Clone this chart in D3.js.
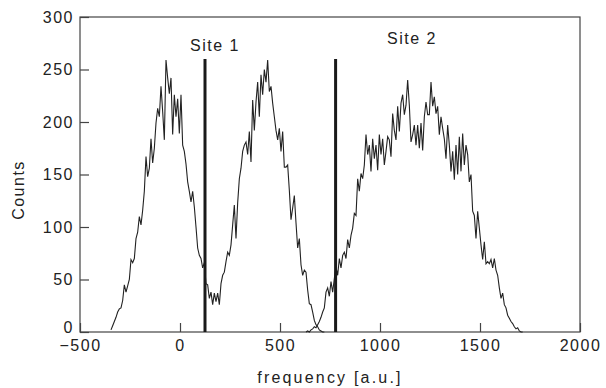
<!DOCTYPE html>
<html>
<head>
<meta charset="utf-8">
<script src="https://cdn.jsdelivr.net/npm/d3@7"></script>
<style>
  body { margin: 0; background: #fff; }
  svg text { font-family: "Liberation Sans", Arial, sans-serif; font-size: 16px; letter-spacing: 1.5px; fill: #222; }
</style>
</head>
<body>
<div id="chart"></div>
<script>
// histogram 1 (site 1 both peaks), bins start at -345, width 25/3
var startA = -345
var countsA = [2, 6, 10, 14, 19, 22, 23, 30, 45, 38, 44, 50, 69, 66, 70, 89, 95, 110, 102, 116,
  134, 167, 148, 156, 184, 161, 175, 199, 213, 205, 234, 210, 183, 259, 242, 227, 242, 188, 226, 205,
  222, 189, 226, 178, 172, 160, 143, 134, 124, 134, 119, 100, 80, 73, 70, 61, 66, 46, 45, 32,
  38, 26, 37, 29, 37, 26, 46, 54, 57, 67, 76, 73, 83, 102, 121, 89, 123, 146, 156, 172,
  178, 181, 169, 191, 162, 221, 192, 219, 238, 205, 245, 226, 250, 238, 259, 229, 234, 218, 205, 192,
  183, 194, 172, 191, 157, 157, 159, 135, 107, 118, 130, 104, 80, 89, 64, 54, 59, 57, 40, 27,
  26, 19, 11, 7, 5, 2, 1, 0, 0]
// histogram 2 (site 2), bins start at 630
var startB = 630
var countsB = [0, 1, 0, 2, 3, 5, 4, 7, 10, 14, 19, 23, 38, 42, 34, 48, 38, 51, 62, 54,
  70, 61, 73, 76, 70, 88, 80, 92, 99, 113, 111, 146, 134, 151, 146, 159, 188, 169, 178, 153,
  184, 165, 178, 154, 188, 169, 184, 159, 172, 186, 183, 167, 208, 192, 183, 215, 191, 218, 226, 207,
  216, 240, 216, 181, 188, 197, 178, 197, 175, 199, 173, 205, 219, 207, 207, 238, 215, 224, 208, 215,
  188, 205, 194, 184, 165, 197, 178, 153, 172, 145, 178, 150, 186, 153, 189, 159, 178, 169, 143, 150,
  115, 111, 89, 115, 99, 83, 69, 86, 65, 67, 65, 69, 61, 70, 59, 54, 42, 32, 37, 26,
  23, 16, 13, 10, 8, 5, 3, 4, 1, 0, 0]
var binWidth = 25 / 3

var markers = [125, 778]
var markerHeight = 260
var siteLabels = [{text: 'Site 1', x: 175, y: 268}, {text: 'Site 2', x: 1160, y: 274}]

var xTicks = [-500, 0, 500, 1000, 1500, 2000]
var yTicks = [0, 50, 100, 150, 200, 250, 300]

var width = 606, height = 388
var margin = {top: 17, right: 26, bottom: 56, left: 80}

var svg = d3.select('#chart')
  .append('svg')
  .attr('width', width)
  .attr('height', height)

var x = d3.scaleLinear()
  .domain([-500, 2000])
  .range([margin.left, width - margin.right])
var y = d3.scaleLinear()
  .domain([0, 300])
  .range([height - margin.bottom, margin.top])

// x axis, ticks pointing inward
var xAxis = svg.append('g')
  .attr('transform', 'translate(0,' + y(0) + ')')
  .call(d3.axisBottom(x).tickValues(xTicks).tickSize(-9).tickPadding(8).tickFormat(d3.format('d')))
xAxis.select('.domain').remove()
xAxis.selectAll('line').attr('stroke', '#444').attr('stroke-width', 1.2)

var yAxis = svg.append('g')
  .attr('transform', 'translate(' + x(-500) + ',0)')
  .call(d3.axisLeft(y).tickValues(yTicks).tickSize(-9).tickPadding(6))
yAxis.select('.domain').remove()
yAxis.selectAll('line').attr('stroke', '#444').attr('stroke-width', 1.2)
// the 0 label sits a bit higher so it clears -500
yAxis.selectAll('.tick text').filter(function(d) { return d === 0 }).attr('dy', '0em')
svg.selectAll('.tick text').style('font-size', '16px').attr('fill', '#222')

// frame
svg.append('rect')
  .attr('x', x(-500))
  .attr('y', y(300))
  .attr('width', x(2000) - x(-500))
  .attr('height', y(0) - y(300))
  .attr('fill', 'none')
  .attr('stroke', '#444')
  .attr('stroke-width', 1.2)

// the histograms
var line = d3.line()
  .x(function(d) { return x(d.f) })
  .y(function(d) { return y(d.c) })

function toPoints(start, counts) {
  return counts.map(function(c, i) { return {f: start + i * binWidth, c: c} })
}

[toPoints(startA, countsA), toPoints(startB, countsB)].forEach(function(pts) {
  svg.append('path')
    .datum(pts)
    .attr('fill', 'none')
    .attr('stroke', '#222')
    .attr('stroke-width', 1.1)
    .attr('d', line)
})

// site markers
svg.selectAll('.marker')
  .data(markers)
  .enter().append('line')
  .attr('class', 'marker')
  .attr('x1', function(d) { return x(d) })
  .attr('x2', function(d) { return x(d) })
  .attr('y1', y(0))
  .attr('y2', y(markerHeight))
  .attr('stroke', '#1a1a1a')
  .attr('stroke-width', 3)

svg.selectAll('.site')
  .data(siteLabels)
  .enter().append('text')
  .attr('class', 'site')
  .attr('x', function(d) { return x(d.x) })
  .attr('y', function(d) { return y(d.y) })
  .attr('text-anchor', 'middle')
  .text(function(d) { return d.text })

// axis titles
svg.append('text')
  .attr('x', (x(-500) + x(2000)) / 2)
  .attr('y', 383)
  .attr('text-anchor', 'middle')
  .style('letter-spacing', '2.2px')
  .text('frequency [a.u.]')

svg.append('text')
  .attr('transform', 'translate(24,190)rotate(-90)')
  .attr('text-anchor', 'middle')
  .text('Counts')
</script>
</body>
</html>
